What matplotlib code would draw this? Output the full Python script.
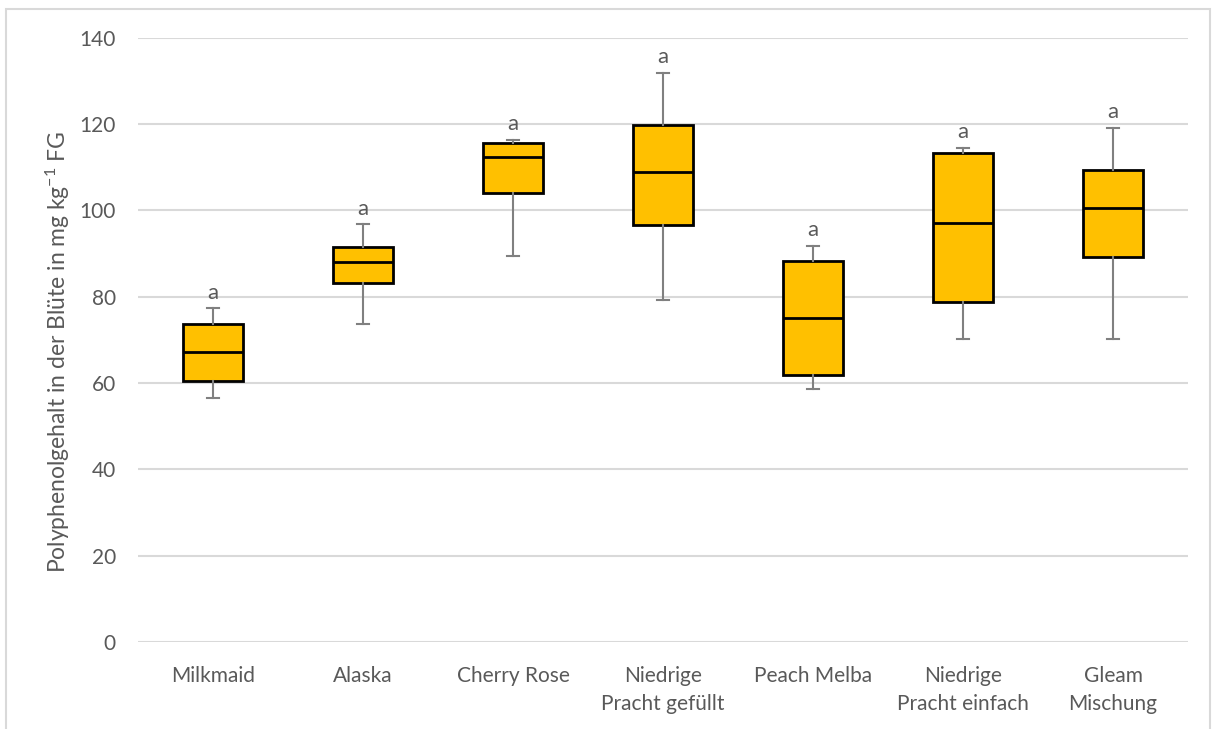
import matplotlib.pyplot as plt
from matplotlib.patches import Rectangle

sorten = ['Milkmaid', 'Alaska', 'Cherry Rose', 'Niedrige\nPracht gefüllt',
          'Peach Melba', 'Niedrige\nPracht einfach', 'Gleam\nMischung']
minimum = [56.6, 73.7, 89.5, 79.2, 58.7, 70.1, 70.3]
q1 = [60.5, 83.2, 104.1, 96.7, 61.9, 78.7, 89.2]
median = [67.2, 88.0, 112.3, 109.0, 75.0, 97.0, 100.6]
q3 = [73.7, 91.5, 115.7, 119.8, 88.2, 113.2, 109.3]
maximum = [77.3, 96.8, 116.4, 131.9, 91.8, 114.5, 119.1]
gruppe = ['a', 'a', 'a', 'a', 'a', 'a', 'a']

grau = '#595959'
plt.rcParams['font.family'] = ['Lato', 'DejaVu Sans']
plt.rcParams['mathtext.fontset'] = 'custom'
plt.rcParams['mathtext.rm'] = 'Lato'
plt.rcParams['mathtext.it'] = 'Lato:italic'

fig = plt.figure(figsize=(12.16, 7.29), dpi=100)
ax = fig.add_axes([0.1135, 0.1193, 0.8635, 0.829])

# rahmen um die ganze grafik
fig.patches.append(Rectangle((6 / 1216, -0.05), 1204 / 1216, 1 - 9 / 729 + 0.05,
                             transform=fig.transFigure, fill=False,
                             edgecolor='#d9d9d9', linewidth=1.5))

stats = []
for i in range(len(sorten)):
    stats.append({'whislo': minimum[i], 'q1': q1[i], 'med': median[i],
                  'q3': q3[i], 'whishi': maximum[i], 'fliers': []})

ax.bxp(stats, positions=range(len(sorten)), widths=0.4, patch_artist=True,
       showfliers=False,
       boxprops=dict(facecolor='#FFC000', edgecolor='black', linewidth=2),
       medianprops=dict(color='black', linewidth=2),
       whiskerprops=dict(color='#808080', linewidth=1.5),
       capprops=dict(color='#808080', linewidth=1.5),
       capwidths=0.08)

for i, txt in enumerate(gruppe):
    ax.annotate(txt, (i, maximum[i]), xytext=(0, 4), textcoords='offset points',
                ha='center', va='bottom', fontsize=16, color=grau)

ax.set_xlim(-0.5, len(sorten) - 0.5)
ax.set_ylim(0, 140)
ax.set_yticks(range(0, 141, 20))
ax.set_xticks(range(len(sorten)))
ax.set_xticklabels(sorten, linespacing=1.55)
ax.yaxis.grid(True, color='#d9d9d9', linewidth=1.5)
ax.set_axisbelow(True)
for s in ax.spines.values():
    s.set_visible(False)
ax.tick_params(axis='both', length=0, labelsize=15, labelcolor=grau)
ax.tick_params(axis='y', pad=16)
ax.tick_params(axis='x', pad=17)
ax.set_ylabel('Polyphenolgehalt in der Blüte in mg kg$^{\\mathrm{-1}}$ FG',
              fontsize=16.5, color=grau)
ax.yaxis.set_label_coords(-0.063, 0.48)

fig.savefig('out.png', dpi=100)
